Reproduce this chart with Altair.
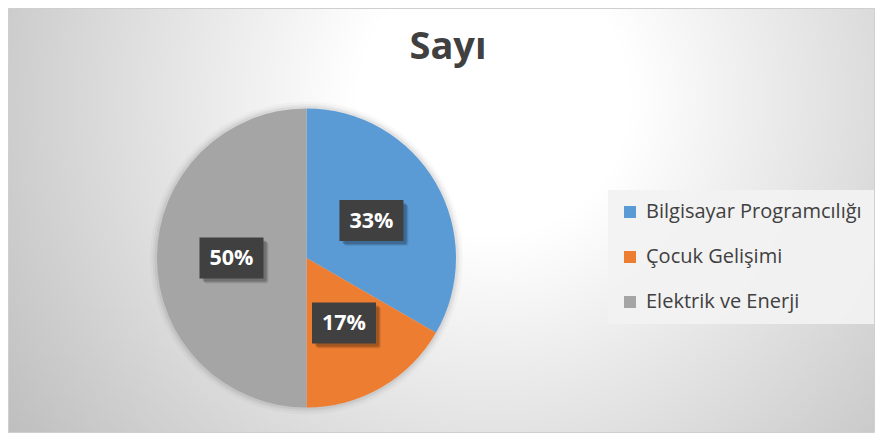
import altair as alt
import pandas as pd

# ---- data -------------------------------------------------------------
categories = ["Bilgisayar Programcılığı", "Çocuk Gelişimi", "Elektrik ve Enerji"]
counts = [2, 1, 3]
colors = ["#5B9BD5", "#ED7D31", "#A5A5A5"]
title_text = "Sayı"

# ---- layout -----------------------------------------------------------
W, H = 867, 425          # whole chart (page margin is 8px each side)
FW, FH = 866.5, 424.5    # framed chart area
CX, CY = 298.5, 250      # pie centre
R = 149.5                # pie radius
LR = 75                  # label radius
BW, BH = 64, 41          # label box size

df = pd.DataFrame({"kategori": categories, "sayi": counts,
                   "sira": list(range(len(categories)))})

xs = alt.Scale(domain=[-CX, W - CX], nice=False, zero=False)
ys = alt.Scale(domain=[-(H - CY), CY], nice=False, zero=False)

# background with radial gradient and frame
bg = alt.Chart(alt.Data(values=[{"a": 1}])).mark_rect(
    fill={
        "gradient": "radial",
        "x1": 0.56, "y1": 0.36, "r1": 0,
        "x2": 0.56, "y2": 0.36, "r2": 0.78,
        "stops": [
            {"offset": 0.0, "color": "#ffffff"},
            {"offset": 0.2, "color": "#ffffff"},
            {"offset": 1.0, "color": "#b2b2b2"},
        ],
    },
    stroke="#cfcfcf", strokeWidth=1,
).encode(x=alt.value(0.5), x2=alt.value(FW), y=alt.value(0.5), y2=alt.value(FH))

title = alt.Chart(alt.Data(values=[{"t": title_text}])).mark_text(
    font="Open Sans", fontWeight="bold", fontSize=38, color="#404040",
    align="center", baseline="alphabetic",
).encode(text="t:N", x=alt.value(440), y=alt.value(51))

base = alt.Chart(df)

# soft shadow round the pie
halo = alt.layer(*[
    base.mark_arc(outerRadius=R + d, color="#000000", opacity=o).encode(
        theta=alt.Theta("sayi:Q", stack=True),
        order=alt.Order("sira:Q"),
        x=alt.value(CX), y=alt.value(CY),
    )
    for d, o in [(7, 0.025), (4.5, 0.035), (2.5, 0.05)]
])

pie = base.mark_arc(outerRadius=R).encode(
    theta=alt.Theta("sayi:Q", stack=True),
    order=alt.Order("sira:Q"),
    color=alt.Color(
        "kategori:N",
        scale=alt.Scale(domain=categories, range=colors),
        sort=categories,
        legend=alt.Legend(
            title=None, orient="none", legendX=600, legendY=182,
            symbolType="square", symbolSize=144, symbolStrokeWidth=0,
            labelFont="Open Sans", labelFontSize=20, labelColor="#404040",
            labelOffset=6, rowPadding=25, padding=12,
            fillColor="rgba(242,242,242,0.93)", labelLimit=400,
        ),
    ),
    x=alt.value(CX), y=alt.value(CY),
)

lab = base.transform_joinaggregate(toplam="sum(sayi)").transform_window(
    kum="sum(sayi)", sort=[alt.SortField("sira")], frame=[None, 0]
).transform_calculate(
    oran="datum.sayi / datum.toplam",
    orta="(datum.kum - datum.sayi / 2) / datum.toplam * 2 * PI",
).transform_calculate(
    lx=f"{LR} * sin(datum.orta)",
    ly=f"{LR} * cos(datum.orta)",
    etiket="format(datum.oran, '.0%')",
).transform_calculate(
    bx1=f"datum.lx - {BW / 2}", bx2=f"datum.lx + {BW / 2}",
    by1=f"datum.ly - {BH / 2}", by2=f"datum.ly + {BH / 2}",
)

shadows = alt.layer(*[
    lab.transform_calculate(
        sx1=f"datum.bx1 + {dx}", sx2=f"datum.bx2 + {dx}",
        sy1=f"datum.by1 - {dy}", sy2=f"datum.by2 - {dy}",
    ).mark_rect(color="#000000", opacity=o, cornerRadius=2).encode(
        x=alt.X("sx1:Q", scale=xs, axis=None), x2="sx2:Q",
        y=alt.Y("sy1:Q", scale=ys, axis=None), y2="sy2:Q",
    )
    for dx, dy, o in [(5, 5, 0.08), (4, 4, 0.12), (3, 3, 0.15)]
])

boxes = lab.mark_rect(color="#404040").encode(
    x=alt.X("bx1:Q", scale=xs, axis=None), x2="bx2:Q",
    y=alt.Y("by1:Q", scale=ys, axis=None), y2="by2:Q",
)

texts = lab.mark_text(
    font="Open Sans", fontWeight="bold", fontSize=21.5, color="#ffffff",
    align="center", baseline="middle", dy=1,
).encode(
    x=alt.X("lx:Q", scale=xs, axis=None),
    y=alt.Y("ly:Q", scale=ys, axis=None),
    text="etiket:N",
)

chart = alt.layer(bg, title, halo, pie, shadows, boxes, texts).properties(
    width=W, height=H, padding=0,
    autosize=alt.AutoSizeParams(type="none"),
).configure_view(stroke=None).configure(background="#ffffff")

chart.save("out.html", embed_options={"renderer": "svg", "actions": False})
